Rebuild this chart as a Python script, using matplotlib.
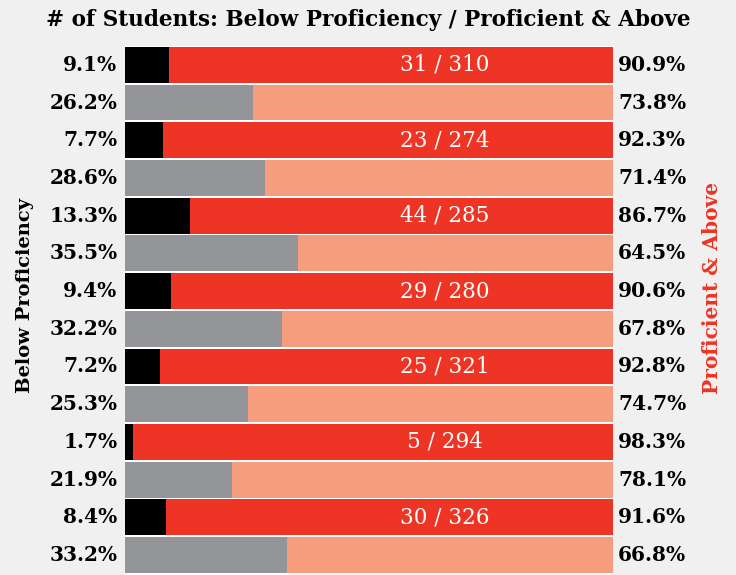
import matplotlib.pyplot as plt
from matplotlib.patches import Rectangle

BELOW_PCT = [9.1, 26.2, 7.7, 28.6, 13.3, 35.5, 9.4, 32.2, 7.2, 25.3, 1.7, 21.9, 8.4, 33.2]
PROF_PCT = [90.9, 73.8, 92.3, 71.4, 86.7, 64.5, 90.6, 67.8, 92.8, 74.7, 98.3, 78.1, 91.6, 66.8]
COUNT_LABELS = ["31 / 310", "", "23 / 274", "", "44 / 285", "", "29 / 280", "",
                "25 / 321", "", "5 / 294", "", "30 / 326", ""]

BG = "#f0f0f0"
DARK_BELOW, DARK_PROF = "#000000", "#ee3424"
LIGHT_BELOW, LIGHT_PROF = "#939598", "#f59d7c"
FONT = "DejaVu Serif"


def main() -> None:
    fig = plt.figure(figsize=(7.36, 5.75), dpi=100, facecolor=BG)
    ax = fig.add_axes([125 / 736, 0.0, 488 / 736, 1 - 46 / 575])
    ax.set_facecolor(BG)

    n = len(BELOW_PCT)
    # white seams between the bars
    ax.add_patch(Rectangle((0, -0.5), 100, n, color="white", zorder=0))
    for i in range(n):
        dark = i % 2 == 0
        c_below = DARK_BELOW if dark else LIGHT_BELOW
        c_prof = DARK_PROF if dark else LIGHT_PROF
        ax.barh(i, BELOW_PCT[i], height=0.95, color=c_below, edgecolor="none", zorder=1)
        ax.barh(i, PROF_PCT[i], left=BELOW_PCT[i], height=0.95, color=c_prof,
                edgecolor="none", zorder=1)
        if COUNT_LABELS[i]:
            ax.text(65.5, i, COUNT_LABELS[i], ha="center", va="center", color="white",
                    fontsize=15.5, family=FONT, zorder=2)
        ax.text(-1.6, i, f"{BELOW_PCT[i]:.1f}%", ha="right", va="center", color="black",
                fontsize=14.5, fontweight="bold", family=FONT)
        ax.text(1.01, i, f"{PROF_PCT[i]:.1f}%", ha="left", va="center", color="black",
                fontsize=14.5, fontweight="bold", family=FONT,
                transform=ax.get_yaxis_transform())

    ax.set_xlim(0, 100)
    ax.set_ylim(n - 0.5 + 0.03, -0.5)
    ax.axis("off")

    fig.text(0.5, 1 - 20 / 575, "# of Students: Below Proficiency / Proficient & Above",
             ha="center", va="center", fontsize=15.5, fontweight="bold", family=FONT)
    fig.text(25 / 736, 1 - 295 / 575, "Below Proficiency", rotation=90, ha="center", va="center",
             fontsize=14, fontweight="bold", family=FONT, color="black")
    fig.text(712 / 736, 1 - 288 / 575, "Proficient & Above", rotation=90, ha="center", va="center",
             fontsize=14.5, fontweight="bold", family=FONT, color=DARK_PROF)

    fig.savefig("out.png", dpi=100, facecolor=BG)
    plt.close(fig)


if __name__ == "__main__":
    main()
